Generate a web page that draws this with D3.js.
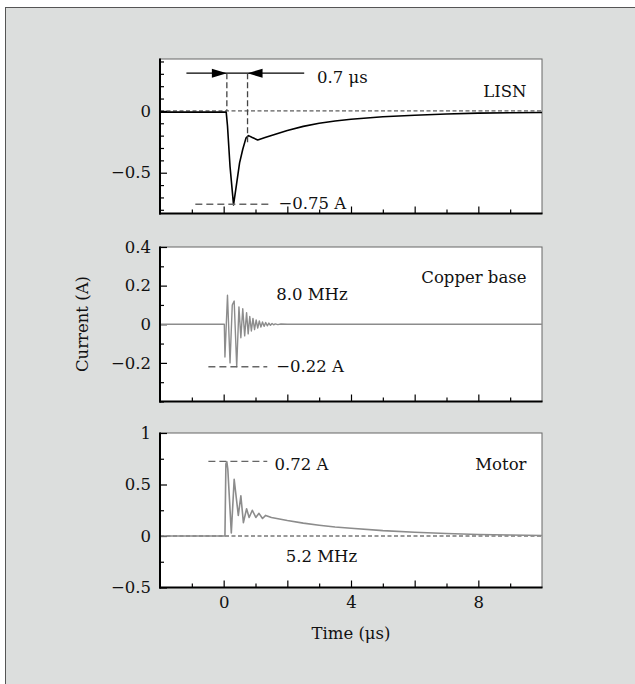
<!DOCTYPE html>
<html><head><meta charset="utf-8">
<script src="https://cdn.jsdelivr.net/npm/d3@7"></script>
<style>body{margin:0;background:#fff}svg{display:block}</style>
</head><body>
<script>
// ---- data ----
const timeDomain = [-2, 10];
const timeTickLabels = [0, 4, 8];
const timeMinorTicks = [-1, 0, 1, 2, 3, 4, 5, 6, 7, 8, 9];

const lisnT = [-2, 0.08, 0.12, 0.2, 0.31, 0.4, 0.5, 0.6, 0.7, 0.78, 0.9, 1.07, 1.3, 1.6, 2.0, 2.5, 3, 3.5, 4, 5, 6, 7, 8, 9, 10];
const lisnI = [-0.01, -0.01, -0.12, -0.45, -0.76, -0.6, -0.42, -0.31, -0.22, -0.2, -0.215, -0.235, -0.215, -0.19, -0.158, -0.125, -0.1, -0.082, -0.068, -0.047, -0.035, -0.025, -0.018, -0.015, -0.013];

const copperT = [-2, 0.02, 0.04, 0.12, 0.2, 0.27, 0.33, 0.41, 0.48, 0.54, 0.6, 0.66, 0.72, 0.77, 0.82, 0.87, 0.92, 0.97, 1.02, 1.07, 1.12, 1.17, 1.22, 1.27, 1.32, 1.37, 1.42, 1.47, 1.52, 1.57, 1.62, 1.7, 1.8, 2, 10];
const copperI = [0, 0, -0.17, 0.15, -0.2, 0.1, 0.12, -0.22, 0.09, -0.07, 0.08, -0.06, 0.06, -0.05, 0.04, -0.035, 0.03, -0.028, 0.022, -0.02, 0.017, -0.015, 0.012, -0.011, 0.009, -0.008, 0.006, -0.005, 0.004, -0.003, 0.002, -0.002, 0.001, 0, 0];

const motorT = [-2, 0.04, 0.07, 0.1, 0.13, 0.24, 0.33, 0.46, 0.54, 0.62, 0.72, 0.8, 0.9, 1.01, 1.11, 1.22, 1.32, 1.5, 2, 2.5, 3, 3.5, 4, 5, 6, 7, 8, 9, 10];
const motorI = [0, 0, 0.7, 0.72, 0.65, 0.03, 0.55, 0.2, 0.39, 0.13, 0.265, 0.18, 0.25, 0.18, 0.22, 0.17, 0.2, 0.18, 0.15, 0.125, 0.105, 0.088, 0.075, 0.052, 0.036, 0.024, 0.015, 0.009, 0.005];

const lisnTicks = [-0.8, -0.7, -0.6, -0.5, -0.4, -0.3, -0.2, -0.1, 0, 0.1, 0.2, 0.3, 0.4];
const lisnTickLabels = [-0.5, 0];
const copperTicks = [-0.4, -0.3, -0.2, -0.1, 0, 0.1, 0.2, 0.3, 0.4];
const copperTickLabels = [-0.2, 0, 0.2, 0.4];
const motorTicks = [-0.5, -0.25, 0, 0.25, 0.5, 0.75, 1];
const motorTickLabels = [-0.5, 0, 0.5, 1];

const panelNames = ["LISN", "Copper base", "Motor"];

// ---- layout ----
const W = 635, H = 684;
const FONT = "'DejaVu Serif', serif";
const FS = 16.5;
const svg = d3.select("body").append("svg").attr("width", W).attr("height", H);
svg.append("rect").attr("x", 5.5).attr("y", 7.5).attr("width", W + 10).attr("height", H + 10)
  .attr("fill", "#dcdedd").attr("stroke", "#555").attr("stroke-width", 1);

const left = 160, right = 542, ph = 154.5;
const tops = [59, 247, 433];
const x = d3.scaleLinear().domain(timeDomain).range([left, right]);

const fmt = v => (v < 0 ? "\u2212" : "") + String(Math.abs(v));

const panels = [
  {domain: [-0.83, 0.42], ticks: lisnTicks, labels: lisnTickLabels, t: lisnT, v: lisnI, color: "#000", width: 1.6},
  {domain: [-0.4, 0.4], ticks: copperTicks, labels: copperTickLabels, t: copperT, v: copperI, color: "#8c8c8c", width: 1.4},
  {domain: [-0.5, 1], ticks: motorTicks, labels: motorTickLabels, t: motorT, v: motorI, color: "#8c8c8c", width: 1.6}
];

panels.forEach((p, i) => {
  const top = tops[i], bot = top + ph;
  const y = d3.scaleLinear().domain(p.domain).range([bot, top]);
  p.y = y;
  const g = svg.append("g");
  g.append("rect").attr("x", left).attr("y", top).attr("width", right - left).attr("height", ph)
    .attr("fill", "#fff").attr("stroke", "#666").attr("stroke-width", 1);

  if (i !== 1) {
    g.append("line").attr("x1", left).attr("x2", right).attr("y1", y(0)).attr("y2", y(0))
      .attr("stroke", "#333").attr("stroke-width", 1).attr("stroke-dasharray", "4,2.5");
  }

  const yAxis = d3.axisRight(y).tickValues(p.ticks).tickFormat("").tickSizeOuter(0).tickSize(0);
  const ya = g.append("g").attr("transform", `translate(${left},0)`).call(yAxis);
  ya.select(".domain").remove();
  ya.selectAll(".tick line").attr("x2", d => p.labels.some(l => Math.abs(l - d) < 1e-9) ? 7 : 4)
    .attr("stroke", "#000").attr("stroke-width", 1.2);
  const yl = d3.axisLeft(y).tickValues(p.labels).tickFormat(fmt).tickSize(0).tickPadding(9);
  const yla = g.append("g").attr("transform", `translate(${left},0)`).call(yl);
  yla.select(".domain").remove();
  yla.selectAll("text").attr("font-family", FONT).attr("font-size", FS).attr("fill", "#111");

  const xAxis = d3.axisTop(x).tickValues(timeMinorTicks).tickFormat("").tickSize(0).tickSizeOuter(0);
  const xa = g.append("g").attr("transform", `translate(0,${bot})`).call(xAxis);
  xa.select(".domain").remove();
  xa.selectAll(".tick line").attr("y2", d => d % 2 === 0 ? -7 : -4).attr("stroke", "#000").attr("stroke-width", 1.2);

  const data = p.t.map((t, k) => [t, p.v[k]]);
  g.append("path").datum(data)
    .attr("d", d3.line().x(d => x(d[0])).y(d => y(d[1])))
    .attr("fill", "none").attr("stroke", p.color).attr("stroke-width", p.width).attr("stroke-linejoin", "round");

  g.append("line").attr("x1", left).attr("x2", left).attr("y1", top - 0.5).attr("y2", bot + 1)
    .attr("stroke", "#000").attr("stroke-width", 2);
  g.append("line").attr("x1", left - 1).attr("x2", right + 0.5).attr("y1", bot).attr("y2", bot)
    .attr("stroke", "#000").attr("stroke-width", 2);

  g.append("text").attr("x", 526.5).attr("y", [97, 283, 470][i]).attr("text-anchor", "end")
    .attr("font-family", FONT).attr("font-size", FS).attr("fill", "#111").text(panelNames[i]);
});

// ---- annotations ----
const txt = (xx, yy, s) => svg.append("text").attr("x", xx).attr("y", yy)
  .attr("font-family", FONT).attr("font-size", FS).attr("fill", "#111").text(s);
const dash = (x1, y1, x2, y2, col, da) => svg.append("line").attr("x1", x1).attr("y1", y1).attr("x2", x2).attr("y2", y2)
  .attr("stroke", col || "#555").attr("stroke-width", 1.3).attr("stroke-dasharray", da || "7,4");

const y1 = panels[0].y;
const arrowY = y1(0.305);
svg.append("line").attr("x1", x(-1.17)).attr("x2", x(2.53)).attr("y1", arrowY).attr("y2", arrowY)
  .attr("stroke", "#000").attr("stroke-width", 1.2);
dash(x(0.1), arrowY, x(0.1), y1(0), "#444", "6,3");
dash(x(0.75), arrowY, x(0.75), y1(-0.26), "#444", "6,3");
const tipL = x(0.1), tipR = x(0.75);
svg.append("path").attr("d", `M${tipL},${arrowY} L${tipL - 15},${arrowY - 4.5} L${tipL - 15},${arrowY + 4.5} Z`).attr("fill", "#000");
svg.append("path").attr("d", `M${tipR},${arrowY} L${tipR + 15},${arrowY - 4.5} L${tipR + 15},${arrowY + 4.5} Z`).attr("fill", "#000");
txt(x(2.93), 83, "0.7 \u03bcs");
dash(x(-0.89), y1(-0.755), x(1.46), y1(-0.755), "#666");
txt(x(1.72), 209, "\u22120.75 A");

const y2 = panels[1].y;
dash(x(-0.48), y2(-0.22), x(1.37), y2(-0.22), "#666");
txt(x(1.65), 372, "\u22120.22 A");
txt(x(1.65), 300, "8.0 MHz");

const y3 = panels[2].y;
dash(x(-0.48), y3(0.725), x(1.37), y3(0.725), "#666");
txt(x(1.6), 470, "0.72 A");
txt(x(1.95), 562, "5.2 MHz");

svg.append("text").attr("x", x(4)).attr("y", 639).attr("text-anchor", "middle")
  .attr("font-family", FONT).attr("font-size", FS).attr("fill", "#111").text("Time (\u03bcs)");
svg.append("text").attr("transform", "translate(88,324) rotate(-90)").attr("text-anchor", "middle")
  .attr("font-family", FONT).attr("font-size", FS).attr("fill", "#111").text("Current (A)");

svg.append("g").attr("transform", `translate(0,${tops[2] + ph})`)
  .call(d3.axisBottom(x).tickValues(timeTickLabels).tickSize(0).tickPadding(9).tickFormat(fmt))
  .call(g => g.select(".domain").remove())
  .selectAll("text").attr("font-family", FONT).attr("font-size", FS).attr("fill", "#111");
</script>
</body></html>
